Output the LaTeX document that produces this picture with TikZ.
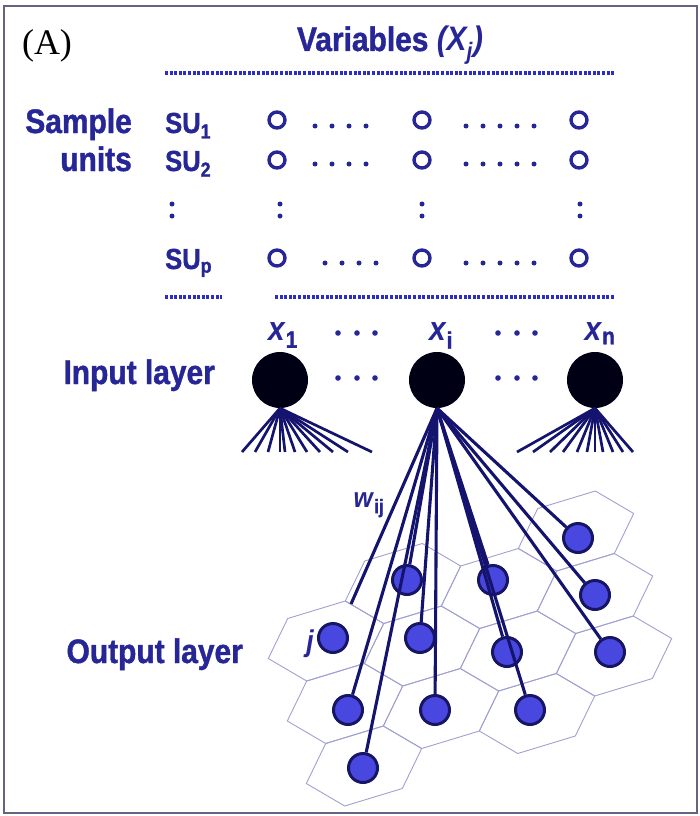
\documentclass[tikz,border=0pt]{standalone}
\usepackage{fontspec}
\setmainfont{Liberation Serif}
\newfontfamily\lab[FakeStretch=0.88,BoldFeatures={FakeBold=1.2}]{Liberation Sans}
\definecolor{tb}{RGB}{38,38,150}
\definecolor{db}{RGB}{45,45,195}
\definecolor{ln}{RGB}{20,20,110}
\definecolor{of}{RGB}{72,72,225}
\definecolor{oe}{RGB}{22,22,100}
\definecolor{hx}{RGB}{160,160,210}
\definecolor{fr}{RGB}{100,100,130}
\begin{document}
\begin{tikzpicture}[x=1pt,y=-1pt,
  lbl/.style={text=tb,font=\lab\bfseries\fontsize{34}{36}\selectfont,inner sep=0pt},
  sul/.style={text=tb,font=\lab\bfseries\fontsize{29}{32}\selectfont,inner sep=0pt},
  dat/.style={circle,draw=tb,line width=3.4pt,minimum size=16pt,inner sep=0pt},
  inn/.style={circle,fill=black!92!blue,minimum size=56pt,inner sep=0pt},
  outn/.style={circle,fill=of,draw=oe,line width=3pt,minimum size=29pt,inner sep=0pt},
  wire/.style={ln,line width=3.1pt},
  fanl/.style={ln,line width=2.7pt},
  rule/.style={db,line width=4.2pt,dash pattern=on 3pt off 1.6pt},
  hexl/.style={hx,line width=0.9pt}
]
\useasboundingbox (0,0) rectangle (700,816);
\draw[fr,line width=2.2pt] (4,6) rectangle (697,813);

% titles
\node[font=\fontsize{36}{40}\selectfont,inner sep=0pt] (A) at (47,46) {(A)};
\node[lbl,anchor=base] (var) at (390,51) {Variables \textit{(X\textsubscript{j})}};
\draw[rule] (165,73) -- (615,73);

% sample units block
\node[lbl,anchor=base east] (sample) at (132,133) {Sample};
\node[lbl,anchor=base east] (units) at (132,171) {units};
\node[sul,anchor=base west] (su1) at (165,133) {SU\textsubscript{1}};
\node[sul,anchor=base west] (su2) at (165,171) {SU\textsubscript{2}};
\node[sul,anchor=base west] (sup) at (165,269) {SU\textsubscript{p}};
\foreach \r/\y in {1/120,2/160,p/258}{
  \node[dat] (d\r a) at (277,\y) {};
  \node[dat] (d\r b) at (422,\y) {};
  \node[dat] (d\r c) at (579,\y) {};
}
\foreach \y in {126,164}{
  \foreach \x in {315,332,349,366,466,483,500,517,534} \fill[tb] (\x,\y) circle (2.5pt);
}
\foreach \x in {325,342,359,376,466,483,500,517,534} \fill[tb] (\x,263) circle (2.5pt);
\foreach \x in {172,280,422,580}{
  \fill[tb] (\x,204) circle (2.5pt);
  \fill[tb] (\x,216) circle (2.5pt);
}
\draw[rule] (165,297) -- (222,297);
\draw[rule] (275,297) -- (615,297);

% input layer
\node[lbl,anchor=base] (l1) at (283,340) {\textit{x}\textsubscript{1}};
\node[lbl,anchor=base] (li) at (441,340) {\textit{x}\textsubscript{i}};
\node[lbl,anchor=base] (ln) at (600,340) {\textit{x}\textsubscript{n}};
\node[lbl,anchor=base east] (inl) at (215,384) {Input layer};
\foreach \y in {333,378}{
  \foreach \x in {338,357,375,498,517,535} \fill[tb] (\x,\y) circle (2.8pt);
}
\node[inn] (x1) at (280,380) {};
\node[inn] (xi) at (437,380) {};
\node[inn] (xn) at (595,380) {};
\foreach \e [count=\k] in {242,255,268,280,285,295,307,320,333,348,372}{
  \coordinate (fa\k) at (\e,452);
  \draw[fanl] (x1.south) -- (fa\k);
}
\foreach \e [count=\k] in {517,533,550,563,577,587,595,603,613,623,633}{
  \coordinate (fb\k) at (\e,452);
  \draw[fanl] (xn.south) -- (fb\k);
}

% hexagonal output grid
\foreach \a/\b in {0/0,1/0,2/0,3/0,0/1,1/1,2/1,0/2,1/-1,2/-1,3/-1,3/-2}{
  \pgfmathsetmacro\cx{326+96*\a+19*\b}
  \pgfmathsetmacro\cy{641+5*\a+62.5*\b}
  \begin{scope}[shift={(\cx,\cy)}]
    \draw[hexl] (-57.7,17.5) -- (-38.3,-22.5) -- (19.3,-40) -- (57.7,-17.5) -- (38.3,22.5) -- (-19.3,40) -- cycle;
  \end{scope}
}
\node[lbl,anchor=base east] (outl) at (243,663) {Output layer};

% output nodes
\node[outn] (o1) at (578,538) {};
\node[outn] (o2) at (407,580) {};
\node[outn] (o3) at (493,580) {};
\node[outn] (o4) at (595,595) {};
\node[outn] (o5) at (333,638) {};
\node[outn] (o6) at (420,638) {};
\node[outn] (o7) at (507,652) {};
\node[outn] (o8) at (610,652) {};
\node[outn] (o9) at (348,710) {};
\node[outn] (o10) at (435,710) {};
\node[outn] (o11) at (530,710) {};
\node[outn] (o12) at (363,768) {};
\node[lbl,font=\lab\bfseries\itshape\fontsize{30}{32}\selectfont] (jl) at (310,644) {j};

% weights from x_i
\coordinate (ap) at (xi.south);
\coordinate (jend) at (351,604);
\foreach \n in {1,2,3,4,6,7,8,9,10,11,12} \draw[wire] (ap) -- (o\n);
\draw[wire] (ap) -- (jend);
\node[lbl,font=\lab\bfseries\fontsize{28}{30}\selectfont] (w) at (369,505) {\textit{w}\textsubscript{ij}};
\end{tikzpicture}
\end{document}
